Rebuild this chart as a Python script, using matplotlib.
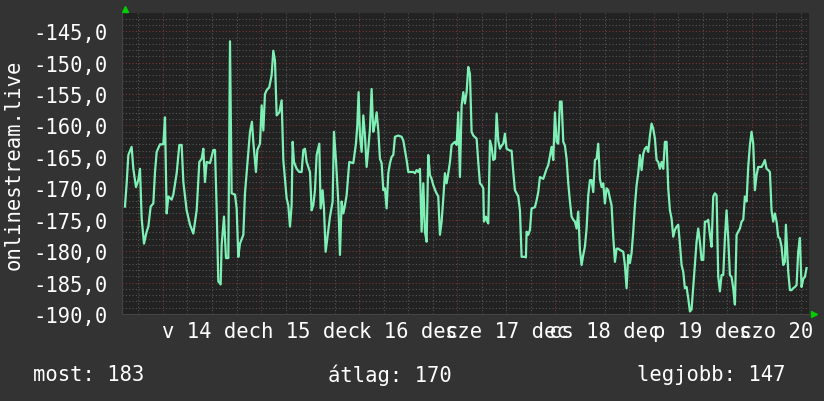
import numpy as np
import matplotlib
matplotlib.use("Agg")
import matplotlib.pyplot as plt

# hours since 13 dec 14:00, one week of data
hours = [
    0.73, 1.14, 1.55, 2.36, 2.77, 3.42, 3.99, 4.40, 4.81, 5.38, 6.03, 6.44, 7.01, 7.66,
    8.07, 8.48, 9.29, 10.11, 10.51, 10.92, 11.33, 12.14, 12.55, 13.37, 14.02, 14.59,
    15.00, 15.81, 16.63, 17.44, 18.26, 18.91, 19.48, 19.89, 20.29, 20.70, 21.52, 22.33,
    22.74, 23.15, 23.55, 24.12, 24.37, 24.94, 25.43, 26.00, 26.41, 26.81, 27.63, 28.04,
    28.44, 28.85, 29.67, 30.07, 30.48, 30.89, 31.30, 31.78, 32.11, 32.76, 33.09, 33.74,
    34.15, 34.56, 34.96, 35.37, 36.02, 36.59, 37.00, 37.41, 37.82, 38.47, 39.04, 39.45,
    40.26, 40.67, 41.08, 41.48, 41.73, 42.05, 42.71, 43.36, 43.93, 44.34, 44.74, 45.15,
    45.97, 46.37, 46.78, 47.19, 47.60, 48.25, 48.57, 49.06, 49.39, 49.80, 50.20, 50.86,
    51.51, 51.83, 52.32, 52.89, 53.30, 53.71, 54.12, 54.52, 54.93, 55.58, 56.56, 57.21,
    57.54, 57.86, 58.19, 58.60, 59.01, 59.41, 59.82, 60.23, 60.64, 61.04, 61.45, 61.86,
    62.27, 62.67, 63.08, 63.49, 63.90, 64.30, 64.71, 65.12, 65.53, 65.93, 66.34, 66.75,
    67.56, 68.38, 68.79, 69.19, 69.60, 70.01, 71.23, 71.64, 72.05, 72.45, 72.86, 73.27,
    73.68, 74.08, 74.49, 74.90, 75.31, 75.71, 76.12, 76.77, 77.34, 77.75, 78.16, 78.57,
    78.97, 79.38, 79.79, 80.20, 80.60, 81.42, 81.83, 82.23, 82.64, 83.05, 83.46, 83.86,
    84.27, 84.68, 85.09, 85.49, 85.90, 86.72, 87.12, 87.53, 87.94, 88.35, 88.51, 89.00,
    89.32, 89.57, 89.98, 90.38, 90.79, 91.20, 91.61, 92.01, 92.42, 92.83, 93.24, 93.64,
    94.05, 94.87, 95.27, 95.68, 96.09, 96.90, 97.31, 97.72, 98.53, 98.78, 98.94, 99.35,
    99.76, 100.16, 100.98, 101.39, 101.79, 102.20, 103.02, 103.83, 104.24, 105.05, 105.46,
    105.87, 106.28, 106.68, 107.09, 107.50, 107.91, 108.31, 108.72, 109.13, 109.54, 109.94,
    110.35, 110.76, 111.17, 111.57, 111.98, 112.39, 112.80, 113.20, 113.61, 114.02, 114.43,
    114.83, 115.24, 115.65, 116.06, 116.46, 116.87, 117.28, 117.69, 118.09, 118.50, 118.91,
    119.32, 119.72, 120.13, 120.54, 120.95, 121.35, 121.76, 122.58, 122.98, 123.39, 123.80,
    124.21, 124.61, 125.02, 125.43, 125.84, 126.24, 126.65, 127.06, 127.47, 127.87, 128.28,
    128.69, 129.10, 129.50, 129.91, 130.32, 130.73, 131.13, 131.54, 131.95, 132.36, 132.76,
    133.17, 133.58, 133.99, 134.39, 134.80, 135.21, 135.62, 136.02, 136.43, 136.84, 137.25,
    137.65, 138.06, 138.47, 138.88, 139.28, 139.69, 140.10, 140.51, 140.91, 141.32, 141.73,
    142.14, 142.54, 142.95, 143.36, 143.77, 144.17, 144.58, 144.99, 145.40, 145.80, 146.21,
    146.62, 147.03, 147.43, 147.84, 148.25, 148.66, 149.06, 149.47, 149.88, 150.29, 150.69,
    151.10, 151.51, 151.92, 152.32, 152.73, 153.14, 153.55, 153.95, 154.36, 154.77, 155.18,
    155.58, 155.99, 156.40, 156.81, 157.21, 157.62, 158.03, 158.44, 158.84, 159.25, 159.66,
    160.07, 160.47, 160.88, 161.29, 161.70, 162.10, 162.35, 162.67, 162.92, 163.33, 163.73,
    164.14, 164.55, 164.96, 165.36, 165.77, 166.18, 166.59, 166.99, 167.40,
]
signal = [
    -172.9, -169.2, -164.7, -163.4, -166.9, -169.8, -168.7, -166.9, -174.8, -178.8, -176.9, -176.1, -172.9, -172.4,
    -167.4, -164.2, -163.0, -163.0, -158.7, -174.0, -171.3, -171.8, -171.0, -167.6, -163.1, -163.1,
    -169.0, -173.5, -175.8, -177.2, -173.5, -165.8, -165.3, -163.7, -169.0, -165.8, -166.0, -163.9,
    -163.9, -173.2, -184.8, -185.3, -179.0, -174.5, -181.1, -181.1, -146.6, -170.8, -171.0, -173.2,
    -180.9, -178.8, -177.4, -170.8, -167.6, -164.5, -161.0, -159.4, -162.6, -167.4, -163.9, -162.9,
    -156.8, -160.8, -155.0, -154.4, -153.9, -152.0, -148.1, -149.7, -158.4, -157.9, -156.0, -165.5,
    -171.6, -172.7, -176.1, -172.7, -162.6, -165.8, -166.9, -167.4, -167.4, -163.9, -163.7, -165.8,
    -167.4, -173.5, -172.7, -170.3, -164.7, -162.9, -173.2, -170.3, -173.2, -180.1, -178.0, -174.5,
    -172.1, -161.0, -165.5, -172.1, -180.6, -172.1, -174.0, -172.7, -171.1, -165.8, -166.0, -162.9,
    -160.0, -154.7, -161.6, -164.2, -158.4, -161.6, -166.6, -163.7, -160.5, -154.2, -161.0, -159.7,
    -157.9, -160.8, -165.3, -166.0, -170.3, -170.0, -173.2, -167.6, -166.0, -165.0, -164.7, -161.8,
    -161.6, -161.8, -162.4, -163.9, -165.5, -167.4, -167.4, -167.6, -167.1, -167.4, -166.9, -176.9,
    -169.2, -176.9, -178.5, -164.7, -167.9, -168.5, -169.5, -170.6, -171.3, -177.4, -175.3, -171.6,
    -167.6, -169.2, -167.6, -165.8, -163.1, -162.6, -163.1, -157.9, -168.2, -156.8, -154.7, -156.5,
    -154.7, -150.7, -151.8, -161.0, -161.6, -162.1, -165.8, -169.2, -169.5, -170.0, -175.3, -174.5,
    -175.3, -175.6, -162.4, -163.4, -165.5, -165.3, -158.1, -162.4, -163.7, -163.2, -162.9, -161.3,
    -163.7, -164.0, -164.0, -167.4, -170.3, -171.3, -173.5, -180.9, -180.9, -181.0, -176.9, -177.4,
    -176.6, -173.2, -173.0, -171.9, -170.6, -168.2, -168.5, -166.9, -166.3, -163.4, -165.5,
    -157.9, -162.6, -162.9, -156.2, -156.2, -162.6, -163.2, -165.3, -169.2, -172.1, -174.5,
    -175.0, -175.3, -176.4, -173.7, -179.8, -182.2, -180.6, -179.3, -176.4, -171.1, -168.7,
    -168.7, -170.6, -165.5, -165.3, -162.9, -168.5, -169.8, -169.2, -172.4, -170.0, -170.3,
    -171.6, -172.7, -177.7, -181.7, -179.6, -179.6, -179.8, -180.1, -182.2, -185.9, -180.6,
    -181.9, -180.3, -176.9, -172.7, -169.5, -167.6, -164.7, -167.1, -164.5, -163.7, -163.4,
    -164.2, -161.6, -159.7, -160.5, -162.1, -165.5, -165.8, -166.9, -165.8, -166.9, -162.6,
    -162.6, -170.0, -173.5, -174.8, -177.7, -176.6, -176.1, -175.8, -178.8, -182.2, -183.3,
    -185.9, -185.7, -187.5, -189.6, -189.3, -185.7, -181.9, -178.5, -176.4, -178.5, -181.4,
    -181.4, -175.3, -175.3, -175.0, -177.4, -179.3, -171.3, -170.8, -171.1, -184.0, -186.4,
    -183.8, -183.8, -178.0, -173.5, -178.0, -183.8, -184.1, -185.9, -188.5, -177.4, -176.9,
    -176.4, -175.3, -175.0, -171.3, -172.1, -166.6, -163.1, -161.0, -162.9, -170.3, -167.9,
    -166.6, -166.6, -166.6, -166.1, -165.5, -166.9, -167.1, -167.4, -173.5, -175.3, -174.0,
    -175.3, -177.7, -178.0, -179.3, -182.2, -181.7, -175.8, -180.1, -183.3, -186.2, -186.2,
    -185.9, -185.7, -185.4, -180.1, -177.9, -185.7, -184.4, -184.1, -182.7,
]

day_labels = ["v 14 dec", "h 15 dec", "k 16 dec", "sze 17 dec", "cs 18 dec", "p 19 dec", "szo 20 dec"]
first_midnight = 10      # hours after start
y_ticks = [-190, -185, -180, -175, -170, -165, -160, -155, -150, -145]
y_name = "onlinestream.live"

BG = "#333333"
PLOT_BG = "#222222"
LINE = "#7ef0b5"
MINOR = "#555555"
MAJOR = "#7a3434"
MONO = "DejaVu Sans Mono"

fig = plt.figure(figsize=(8.24, 4.02), dpi=100, facecolor=BG)
ax = fig.add_axes([122 / 824, 1 - 315 / 402, 687 / 824, 301 / 402])
ax.set_facecolor(PLOT_BG)
ax.set_xlim(0, 168)
ax.set_ylim(-190, -142.1)

# grid, rrdtool style
dots = (0, (1, 2))
for h in range(first_midnight - 24, 169, 6):
    if h <= 0:
        continue
    is_major = (h - first_midnight) % 24 == 0
    ax.axvline(h, color=MAJOR if is_major else MINOR, lw=0.8, ls=dots, zorder=1)
for v in range(-189, -142):
    is_major = v % 5 == 0
    ax.axhline(v, color=MAJOR if is_major else MINOR, lw=0.8, ls=dots, zorder=1)

ax.plot(hours, signal, color=LINE, lw=1.6, zorder=3)

noon = [first_midnight + 12 + 24 * i for i in range(len(day_labels))]
ax.set_xticks(noon)
ax.set_xticklabels(day_labels, fontfamily=MONO, fontsize=14.8, color="white")
ax.set_yticks(y_ticks)
ax.set_yticklabels([f"{t:.1f}".replace(".", ",") for t in y_ticks],
                   fontfamily=MONO, fontsize=14.8, color="white")
ax.tick_params(axis="both", length=0)
ax.tick_params(axis="y", pad=10)
ax.tick_params(axis="x", pad=5)
for side in ["top", "right"]:
    ax.spines[side].set_visible(False)
for side in ["left", "bottom"]:
    ax.spines[side].set_color("#444444")
    ax.spines[side].set_linewidth(0.8)

# green arrows at the axis ends
ax.plot([0.004], [1.013], marker="^", color="#00cc00", ms=5, transform=ax.transAxes, clip_on=False)
ax.plot([1.007], [0.0], marker=">", color="#00cc00", ms=5, transform=ax.transAxes, clip_on=False)

fig.text(14 / 824, 1 - 165 / 402, y_name, rotation=90, ha="center", va="center",
         fontfamily=MONO, fontsize=14.8, color="white")

last = abs(signal[-1])
mean = abs(np.mean(signal))
best = abs(max(signal))
fig.text(33 / 824, 1 - 375 / 402, f"most: {last:.0f}", ha="left", va="center",
         fontfamily=MONO, fontsize=14.8, color="white")
fig.text(328 / 824, 1 - 375 / 402, f"átlag: {mean:.0f}", ha="left", va="center",
         fontfamily=MONO, fontsize=14.8, color="white")
fig.text(637 / 824, 1 - 375 / 402, f"legjobb: {best:.0f}", ha="left", va="center",
         fontfamily=MONO, fontsize=14.8, color="white")

fig.savefig("out.png", dpi=100, facecolor=BG)
